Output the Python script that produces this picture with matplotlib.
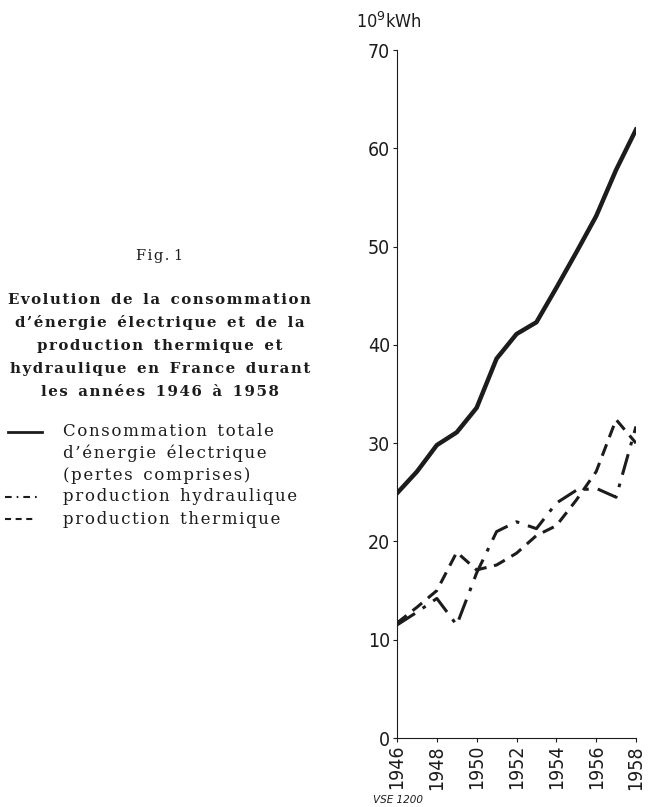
import matplotlib
matplotlib.use('Agg')
import matplotlib.pyplot as plt
from matplotlib.lines import Line2D

# Data (10^9 kWh)
years = [1946, 1947, 1948, 1949, 1950, 1951, 1952, 1953, 1954, 1955, 1956, 1957, 1958]
consommation = [24.9, 27.1, 29.8, 31.1, 33.6, 38.6, 41.1, 42.3, 45.8, 49.4, 53.1, 57.8, 61.9]
hydraulique = [11.5, 12.8, 14.2, 11.5, 16.8, 21.0, 22.0, 21.3, 23.9, 25.2, 25.4, 24.5, 31.7]
thermique = [11.7, 13.3, 15.0, 18.9, 17.1, 17.6, 18.8, 20.6, 21.6, 24.2, 27.1, 32.4, 30.0]
xticks = [1946, 1948, 1950, 1952, 1954, 1956, 1958]
yticks = [0, 10, 20, 30, 40, 50, 60, 70]

title_lines = ['Evolution de la consommation',
               'd\u2019énergie électrique et de la',
               'production thermique et',
               'hydraulique en France durant',
               'les années 1946 à 1958']
legend_lines = ['Consommation totale',
                'd\u2019énergie électrique',
                '(pertes comprises)',
                'production hydraulique',
                'production thermique']

ink = '#1c1c1c'
serif = ['DejaVu Serif']


def spaced(s, sep, word=' '):
    # fake the letter spacing of the printed caption
    return word.join(sep.join(w) for w in s.split(' '))


fig = plt.figure(figsize=(6.52, 8.07), dpi=100)
ax = fig.add_axes([397/652, 1-738/807, 239/652, 688/807])

ax.plot(years, consommation, color=ink, lw=3.2, solid_joinstyle='round')
ax.plot(years, hydraulique, color=ink, lw=2.2, dashes=(7, 3, 1.2, 3))
ax.plot(years, thermique, color=ink, lw=2.2, dashes=(4, 2.5))

ax.set_xlim(1946, 1958)
ax.set_ylim(0, 70)
ax.set_xticks(xticks)
ax.set_yticks(yticks)
ax.set_xticklabels([str(t) for t in xticks], rotation=90)
ax.set_yticklabels([str(t) for t in yticks])
for lab in ax.get_xticklabels() + ax.get_yticklabels():
    lab.set_family('DejaVu Sans')
    lab.set_stretch('condensed')
    lab.set_fontsize(14)
ax.tick_params(length=3, width=0.8, color=ink, labelcolor=ink, pad=2)
for s in ['top', 'right']:
    ax.spines[s].set_visible(False)
for s in ['left', 'bottom']:
    ax.spines[s].set_linewidth(0.8)
    ax.spines[s].set_color(ink)

fig.text(356/652, 1-22/807, '10$^9$kWh', family='DejaVu Sans', stretch='condensed',
         fontsize=13, color=ink, va='center', ha='left')
fig.text(373/652, 1-800/807, 'VSE 1200', family='DejaVu Sans', style='italic',
         fontsize=7.5, color=ink, va='center', ha='left')

# caption on the left
fig.text(160/652, 1-256/807, spaced('Fig. 1', '\u200a'), family=serif, fontsize=10.5,
         color=ink, ha='center', va='center')
for i, line in enumerate(title_lines):
    fig.text(160/652, 1-(300+23*i)/807, spaced(line, '\u200a', '  '), family=serif,
             fontweight='bold', fontsize=10.8, color=ink, ha='center', va='center')

legend_y = [432, 453, 475, 497, 519]
legend_style = ['-', None, None, '-.', '--']
for ypx, style, label in zip(legend_y, legend_style, legend_lines):
    yf = 1-ypx/807
    if style == '-':
        fig.add_artist(Line2D([8/652, 42/652], [yf, yf], color=ink, lw=2.0))
    elif style == '-.':
        fig.add_artist(Line2D([5/652, 37/652], [yf, yf], color=ink, lw=1.5,
                              dashes=(3.2, 2.4, 0.8, 2.4)))
    elif style == '--':
        fig.add_artist(Line2D([5/652, 35/652], [yf, yf], color=ink, lw=1.5,
                              dashes=(2.9, 2.2)))
    fig.text(63/652, yf, spaced(label, '\u200a', '  '), family=serif, fontsize=12,
             color=ink, ha='left', va='center')

fig.savefig('out.png', dpi=100, facecolor='white')
